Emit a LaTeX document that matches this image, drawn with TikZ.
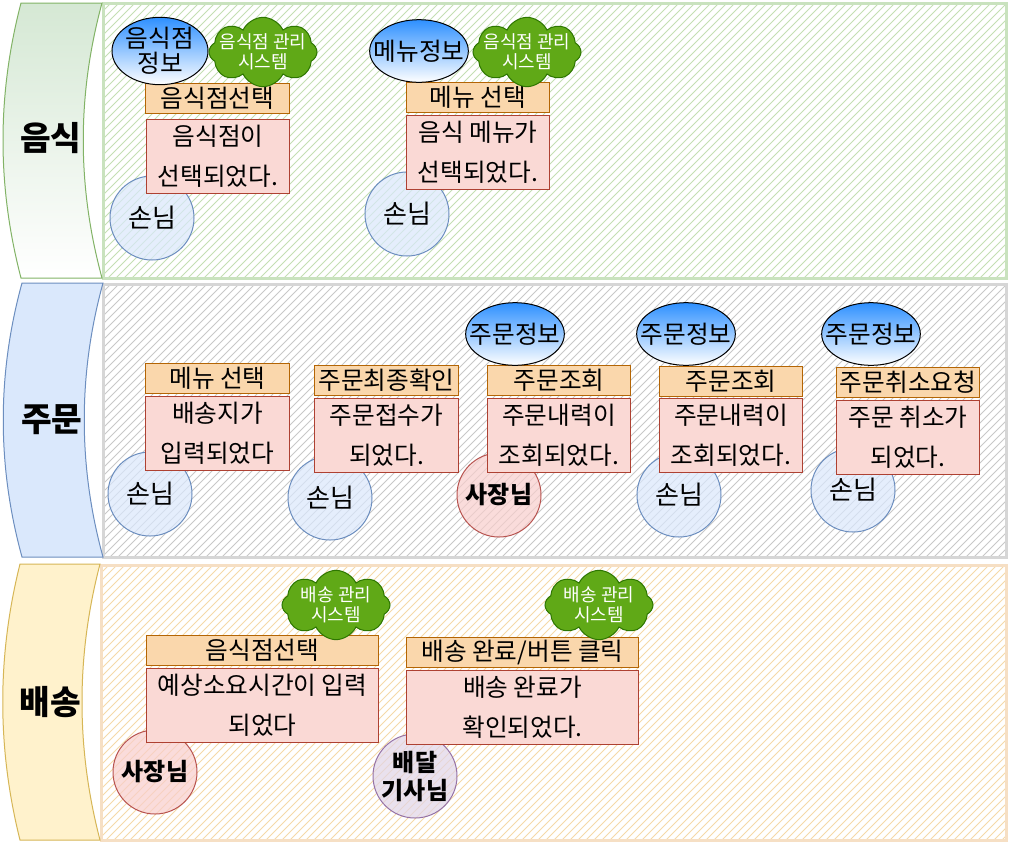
\documentclass[tikz,border=0pt]{standalone}
\usepackage{fontspec}
\setmainfont{Noto Sans CJK KR}
\usetikzlibrary{shapes.symbols,shapes.geometric}
\definecolor{gFill}{HTML}{D5E8D4}
\definecolor{gLine}{HTML}{82B366}
\definecolor{bFill}{HTML}{DAE8FC}
\definecolor{bLine}{HTML}{6C8EBF}
\definecolor{yFill}{HTML}{FFF2CC}
\definecolor{yLine}{HTML}{D6B656}
\definecolor{oFill}{HTML}{FAD7AC}
\definecolor{oLine}{HTML}{B46504}
\definecolor{pFill}{HTML}{FAD9D5}
\definecolor{pLine}{HTML}{AE4132}
\definecolor{rFill}{HTML}{F8CECC}
\definecolor{rLine}{HTML}{B85450}
\definecolor{vFill}{HTML}{E1D5E7}
\definecolor{vLine}{HTML}{9673A6}
\definecolor{cFill}{HTML}{60A917}
\definecolor{cLine}{HTML}{2D7600}
\definecolor{eBlue}{HTML}{2E90FF}
\definecolor{hG}{HTML}{C4DFB3}
\definecolor{hB}{HTML}{C8C8C8}
\definecolor{hY}{HTML}{F5D9A8}
\definecolor{rimG}{HTML}{C9E2BE}
\definecolor{rimB}{HTML}{D6D6D6}
\definecolor{rimY}{HTML}{F6DFC4}
\newcommand{\ctr}[1]{\makebox[0pt][c]{#1}}
\tikzset{
 lanebox/.style={line width=2.25pt},
 hatch/.style={line width=0.6pt},
 lanetitle/.style={font=\fontsize{25}{28}\selectfont\bfseries},
 obox/.style={rectangle, draw=oLine, fill=oFill, line width=0.75pt, anchor=north west, inner sep=0pt, minimum height=22.5pt, font=\fontsize{18.5}{20}\selectfont},
 pbox/.style={rectangle, draw=pLine, fill=pFill, line width=0.75pt, anchor=north west, inner sep=0pt, minimum height=55.5pt, align=center, font=\fontsize{18.5}{30}\selectfont},
 actor/.style={circle, line width=0.75pt, minimum size=63pt, inner sep=0pt, fill opacity=0.7, text opacity=1, align=center, font=\fontsize{19.5}{21}\selectfont},
 guest/.style={actor, fill=bFill, draw=bLine},
 owner/.style={actor, fill=rFill, draw=rLine, font=\fontsize{18}{21}\selectfont\bfseries},
 rider/.style={actor, fill=vFill, draw=vLine, font=\fontsize{18}{21}\selectfont\bfseries},
 info/.style={ellipse, draw=black, line width=0.75pt, top color=eBlue, bottom color=white, minimum width=74pt, minimum height=47pt, inner sep=0pt, align=center, font=\fontsize{18.5}{20}\selectfont},
 sys/.style={cloud, cloud puffs=8, cloud puff arc=130, cloud ignores aspect, draw=cLine, fill=cFill, text=white, line width=0.75pt, minimum width=81pt, minimum height=52pt, inner sep=0pt, align=center, font=\fontsize{13.5}{15}\selectfont},
}
\begin{document}
\begin{tikzpicture}[x=0.75pt,y=-0.75pt]
\useasboundingbox (0,0) rectangle (1010,844);
\fill[white] (0,0) rectangle (1010,844);
% ---------- lanes: hatching ----------
\begin{scope}
\clip (103,3) rectangle (1006,278);
\foreach \i in {0,8,...,1184} \draw[hatch, hG] (\i-172,278) -- (\i+103,3);
\end{scope}
\begin{scope}
\clip (103,284) rectangle (1006,557);
\foreach \i in {0,8,...,1184} \draw[hatch, hB] (\i-170,557) -- (\i+103,284);
\end{scope}
\begin{scope}
\clip (101,565) rectangle (1006,840);
\foreach \i in {0,8,...,1184} \draw[hatch, hY] (\i-174,840) -- (\i+101,565);
\end{scope}
\draw[lanebox, rimG] (103,3) rectangle (1006,278);
\draw[lanebox, rimB] (103,284) rectangle (1006,557);
\draw[lanebox, rimY] (101,565) rectangle (1006,840);
% ---------- lane titles ----------
\path[draw=gLine, top color=gFill, bottom color=white, line width=0.75pt]
 (21,3) -- (102,3) .. controls (77,95) and (77,186) .. (102,278) -- (21,278) .. controls (-3,186) and (-3,95) .. (21,3) -- cycle;
\path[draw=bLine, fill=bFill, line width=0.75pt]
 (22,283) -- (103,283) .. controls (78,374) and (78,466) .. (103,557) -- (22,557) .. controls (-3,466) and (-3,374) .. (22,283) -- cycle;
\path[draw=yLine, fill=yFill, line width=0.75pt]
 (20,564) -- (100,564) .. controls (76,656) and (76,748) .. (100,840) -- (20,840) .. controls (-3,748) and (-3,656) .. (20,564) -- cycle;
\node[lanetitle] (tFood) at (51,138) {음식};
\node[lanetitle] (tOrder) at (52,420) {주문};
\node[lanetitle] (tDeliv) at (50,702) {배송};
% ---------- actors ----------
\node[guest] (a1) at (152,218) {손님};
\node[guest] (a2) at (407,214) {손님};
\node[guest] (a3) at (150,494) {손님};
\node[guest] (a4) at (330,498) {손님};
\node[owner] (a5) at (499,495) {사장님};
\node[guest] (a6) at (679,495) {손님};
\node[guest] (a7) at (853,490) {손님};
\node[owner] (a8) at (155,772) {사장님};
\node[rider] (a9) at (415,776) {배달\\기사님};
% ---------- commands (orange) ----------
\node[obox, minimum width=108pt] (o1) at (145,83) {음식점선택};
\node[obox, minimum width=107.25pt] (o2) at (406,82) {메뉴 선택};
\node[obox, minimum width=108pt] (o3) at (145,363) {메뉴 선택};
\node[obox, minimum width=108pt] (o4) at (314,365) {주문최종확인};
\node[obox, minimum width=107.25pt] (o5) at (487,365) {주문조회};
\node[obox, minimum width=107.25pt] (o6) at (659,366) {주문조회};
\node[obox, minimum width=107.25pt] (o7) at (836,367) {주문취소요청};
\node[obox, minimum width=174pt] (o8) at (146,635) {음식점선택};
\node[obox, minimum width=174pt] (o9) at (406,637) {배송 완료/버튼 클릭};
% ---------- events (pink) ----------
\node[pbox, minimum width=107.25pt] (p1) at (146,119) {음식점이\\선택되었다.};
\node[pbox, minimum width=107.25pt] (p2) at (406,115) {음식 메뉴가\\선택되었다.};
\node[pbox, minimum width=108pt] (p3) at (145,396) {배송지가\\입력되었다};
\node[pbox, minimum width=108pt] (p4) at (314,398) {주문접수가\\되었다.};
\node[pbox, minimum width=107.25pt] (p5) at (487,398) {주문내력이\\조회되었다.};
\node[pbox, minimum width=107.25pt] (p6) at (659,398) {주문내력이\\조회되었다.};
\node[pbox, minimum width=107.25pt] (p7) at (836,400) {주문 취소가\\되었다.};
\node[pbox, minimum width=174pt] (p8) at (146,668) {예상소요시간이 입력\\되었다};
\node[pbox, minimum width=174pt] (p9) at (406,670) {배송 완료가\\확인되었다.};
% ---------- read models (ellipses) ----------
\node[info, minimum width=72pt, minimum height=46pt] (e1) at (160,51) {\ctr{음식점}\\[-1pt]\ctr{정보}};
\node[info] (e2) at (419,51) {\ctr{메뉴정보}};
\node[info] (e3) at (515,334) {\ctr{주문정보}};
\node[info] (e4) at (686,334) {\ctr{주문정보}};
\node[info] (e5) at (871,334) {\ctr{주문정보}};
% ---------- systems (clouds) ----------
\node[sys] (s1) at (263,52) {\ctr{음식점 관리}\\\ctr{시스템}};
\node[sys] (s2) at (527,52) {\ctr{음식점 관리}\\\ctr{시스템}};
\node[sys] (s3) at (336,605) {\ctr{배송 관리}\\\ctr{시스템}};
\node[sys] (s4) at (599,605) {\ctr{배송 관리}\\\ctr{시스템}};
\end{tikzpicture}
\end{document}
